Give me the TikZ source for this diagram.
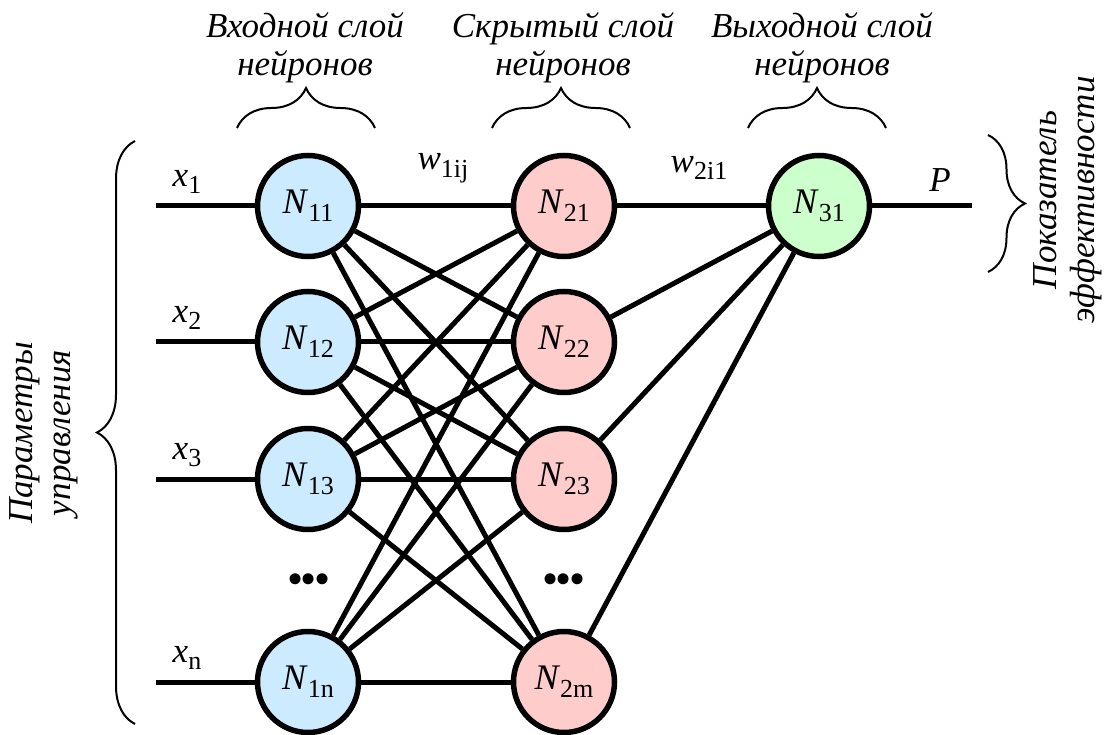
\documentclass[tikz,border=0pt]{standalone}
\usepackage{fontspec}
\setmainfont{Liberation Serif}
\usetikzlibrary{decorations.pathreplacing}
\definecolor{inblue}{HTML}{CCEBFF}
\definecolor{hidpink}{HTML}{FFCCCC}
\definecolor{outgreen}{HTML}{CCFFCC}
\newcommand{\nrn}[2]{\textit{#1}\raisebox{-0.22em}{\fontsize{26}{26}\selectfont #2}}
\newcommand{\tdots}{\fontsize{46}{46}\selectfont\textbullet\hspace{-2.5pt}\textbullet\hspace{-2.5pt}\textbullet}
\begin{document}
\begin{tikzpicture}[x=1pt,y=-1pt,
  neuron/.style={circle,draw=black,line width=5.5pt,minimum size=101pt,inner sep=0pt,font=\fontsize{36}{36}\selectfont},
  inp/.style={neuron,fill=inblue},
  hid/.style={neuron,fill=hidpink},
  outn/.style={neuron,fill=outgreen},
  conn/.style={line width=5pt},
  lbl/.style={font=\fontsize{35}{35}\selectfont,inner sep=0pt},
  captxt/.style={font=\fontsize{35}{38}\selectfont\itshape,align=center,inner sep=0pt},
  brc/.style={line width=2pt,decorate,decoration={brace,amplitude=#1}}
]
\useasboundingbox (0,0) rectangle (1104,735);
% input layer
\node[inp] (a1) at (308,206) {\nrn{N}{11}};
\node[inp] (a2) at (308,342) {\nrn{N}{12}};
\node[inp] (a3) at (308,479) {\nrn{N}{13}};
\node[inp] (an) at (308,682) {\nrn{N}{1n}};
% hidden layer
\node[hid] (h1) at (564,206) {\nrn{N}{21}};
\node[hid] (h2) at (564,342) {\nrn{N}{22}};
\node[hid] (h3) at (564,479) {\nrn{N}{23}};
\node[hid] (hm) at (564,682) {\nrn{N}{2m}};
% output
\node[outn] (o1) at (819,206) {\nrn{N}{31}};
% inputs
\coordinate (i1) at (156,206);
\coordinate (i2) at (156,342);
\coordinate (i3) at (156,479);
\coordinate (in) at (156,682);
\coordinate (pe) at (972,206);
\foreach \k in {1,2,3,n} \draw[conn] (i\k) -- (a\k);
\draw[conn] (o1) -- (pe);
\foreach \i in {1,2,3,n}
  \foreach \j in {1,2,3,m}
    \draw[conn] (a\i) -- (h\j);
\foreach \j in {1,2,3,m}
  \draw[conn] (h\j) -- (o1);
% labels
\node[lbl] (lx1) at (187,182) {\nrn{x}{1}};
\node[lbl] (lx2) at (187,318) {\nrn{x}{2}};
\node[lbl] (lx3) at (187,455) {\nrn{x}{3}};
\node[lbl] (lxn) at (187,658) {\nrn{x}{n}};
\node[lbl] (lw1) at (443,168) {\nrn{w}{1ij}};
\node[lbl] (lw2) at (699,168) {\nrn{w}{2i1}};
\node[lbl] (lp) at (940,180) {\textit{P}};
\node[lbl] (d1) at (309,584) {\tdots};
\node[lbl] (d2) at (564,584) {\tdots};
% captions
\node[captxt] (c1) at (305,48) {Входной слой\\нейронов};
\node[captxt] (c2) at (563,48) {Скрытый слой\\нейронов};
\node[captxt] (c3) at (822,48) {Выходной слой\\нейронов};
\node[captxt,rotate=90] (c4) at (44,433) {Параметры\\управления};
\node[captxt,rotate=90] (c5) at (1068,200) {Показатель\\эффективности};
% braces
\draw[brc=40pt] (237,128) -- (375,128);
\draw[brc=40pt] (492,128) -- (630,128);
\draw[brc=40pt] (748,128) -- (886,128);
\draw[brc=38pt] (135,724) -- (135,141);
\draw[brc=37pt] (988,135) -- (988,272);
\end{tikzpicture}
\end{document}
